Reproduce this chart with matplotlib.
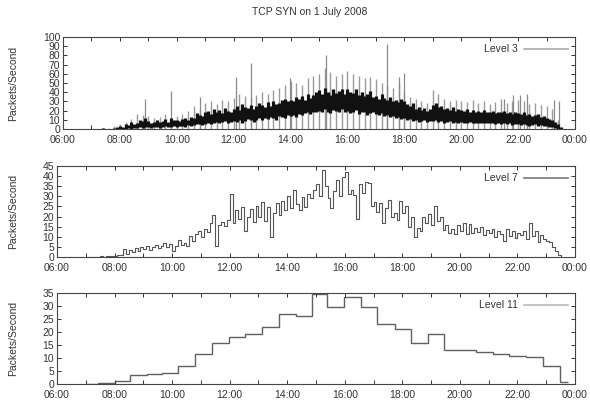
import matplotlib
matplotlib.use("Agg")
import matplotlib.pyplot as plt
from matplotlib.lines import Line2D
import numpy as np

plt.rcParams['font.family'] = ['Liberation Sans', 'DejaVu Sans']

title = "TCP SYN on 1 July 2008"
ylabel = "Packets/Second"
tick_hours = [6, 8, 10, 12, 14, 16, 18, 20, 22, 24]
tick_labels = ['06:00', '08:00', '10:00', '12:00', '14:00', '16:00',
               '18:00', '20:00', '22:00', '00:00']

# Level 3: dense band, sampled every 6 minutes from 07:00 to 23:30
t3 = np.arange(7.0, 23.55, 0.1)
lo3 = [0, 0, 0, 0, 0, 0, 0, 0, 0, 0,
       0, 0, 0, 1, 0, 1, 1, 2, 1, 2,
       2, 1, 2, 2, 1, 2, 3, 2, 2, 3,
       2, 3, 3, 2, 4, 3, 4, 5, 5, 4,
       5, 6, 5, 7, 8, 6, 8, 9, 7, 8,
       9, 8, 10, 7, 9, 11, 10, 8, 10, 12,
       10, 12, 11, 13, 12, 10, 14, 13, 12, 15,
       14, 15, 13, 16, 15, 17, 18, 16, 19, 18,
       20, 18, 22, 19, 17, 21, 20, 18, 22, 19,
       20, 17, 19, 21, 16, 18, 19, 15, 17, 18,
       16, 15, 17, 14, 15, 13, 14, 12, 13, 11,
       12, 10, 11, 9, 10, 8, 9, 10, 8, 9,
       9, 10, 8, 9, 7, 8, 9, 7, 8, 7,
       8, 7, 6, 8, 7, 6, 7, 6, 7, 6,
       6, 7, 5, 6, 5, 6, 5, 6, 4, 5,
       5, 4, 5, 4, 3, 4, 5, 3, 4, 3,
       3, 2, 2, 1, 0, 0]
hi3 = [0, 0.5, 0, 0, 1, 0, 0, 0.5, 1, 2,
       3, 2, 5, 4, 8, 5, 7, 10, 9, 12,
       9, 7, 8, 10, 8, 9, 11, 8, 12, 10,
       10, 9, 11, 12, 10, 13, 12, 17, 15, 14,
       18, 20, 16, 22, 19, 21, 17, 23, 20, 19,
       22, 25, 21, 27, 24, 23, 26, 22, 25, 28,
       26, 24, 29, 25, 30, 27, 28, 31, 33, 30,
       32, 30, 35, 33, 36, 31, 38, 34, 37, 40,
       42, 38, 45, 40, 37, 43, 39, 41, 44, 38,
       43, 40, 39, 44, 37, 40, 36, 38, 41, 35,
       36, 33, 38, 34, 32, 35, 30, 31, 29, 33,
       30, 27, 25, 28, 22, 24, 21, 23, 20, 22,
       26, 28, 24, 25, 22, 23, 21, 24, 20, 22,
       21, 20, 22, 19, 21, 18, 20, 19, 21, 18,
       19, 20, 17, 19, 18, 20, 17, 18, 16, 19,
       17, 16, 18, 15, 16, 14, 15, 16, 13, 14,
       12, 11, 10, 8, 5, 2]
# gray upper fringe, every 12 minutes
t3_pk = np.arange(7.0, 23.45, 0.2)
pk3 = [0, 0, 1, 1, 3,
       5, 8, 11, 16, 15,
       14, 12, 13, 16, 12,
       14, 16, 20, 25, 22,
       28, 30, 27, 32, 30,
       34, 38, 36, 35, 37,
       40, 38, 42, 45, 48,
       52, 50, 48, 55, 58,
       60, 66, 62, 58, 60,
       63, 60, 58, 55, 57,
       54, 50, 47, 45, 50,
       40, 35, 33, 30, 28,
       42, 38, 33, 30, 32,
       30, 29, 31, 28, 30,
       27, 29, 33, 28, 30,
       32, 30, 27, 28, 26,
       25, 22, 10]
spike_t = [8.88, 9.78, 10.83, 12.08, 12.6, 13.98, 15.25, 17.38, 17.83, 18.0,
           21.5, 21.83, 22.08, 22.33, 23.25, 23.43]
spike_v = [33, 41, 35, 57, 72, 55, 80, 92, 57, 61, 33, 37, 37, 38, 31, 30]

# Level 7, every 6 minutes from 07:00 to 23:30
t7 = np.arange(7.0, 23.55, 0.1)
v7 = [0, 0, 0, 0, 0, 0.3, 0, 0.5, 0.3, 0.6,
      0.4, 1.0, 0.8, 4.0, 1.5, 3.5, 2.5, 4.5, 3.0, 5.0,
      4.0, 5.5, 3.5, 5.0, 6.0, 4.5, 5.5, 7.0, 5.0, 6.5,
      3.0, 5.5, 8.5, 6.0, 7.0, 5.5, 10.5, 8.0, 11.5, 13.0,
      10.0, 14.0, 12.5, 17.0, 21.0, 5.5, 16.0, 17.5, 15.5, 18.5,
      31.0, 17.0, 23.0, 19.0, 24.5, 13.0, 20.0, 23.5, 17.5, 25.0,
      20.0, 27.0, 18.0, 24.5, 10.0, 22.0, 26.5, 21.0, 27.5, 23.0,
      30.0, 24.0, 33.0, 26.0, 23.0, 29.5, 24.5, 31.0, 29.0, 33.0,
      36.0, 30.0, 43.0, 35.0, 29.0, 24.0, 32.5, 38.0, 30.0, 39.5,
      42.0, 31.0, 33.0, 30.5, 19.0, 36.0, 31.5, 37.0, 36.5, 25.0,
      27.0, 22.5, 26.5, 17.0, 24.0, 28.0, 20.0, 22.0, 18.5, 27.5,
      22.0, 25.0, 15.0, 20.0, 10.0, 14.5, 13.0, 20.0, 17.0, 21.5,
      16.0, 25.0, 18.0, 20.0, 13.5, 16.0, 12.0, 14.0, 11.5, 16.0,
      13.0, 17.0, 11.5, 16.5, 12.0, 14.5, 12.5, 15.0, 11.0, 13.5,
      12.0, 14.0, 10.0, 13.0, 11.5, 8.0, 14.0, 10.5, 13.0, 9.5,
      12.0, 11.0, 13.0, 9.0, 17.0, 10.5, 13.0, 7.5, 11.0, 9.0,
      8.0, 7.5, 5.0, 3.0, 1.0, 0]

# Level 11 bins (edges in hours)
edges11 = [7.0, 7.41, 8.0, 8.53, 9.12, 9.65, 10.2, 10.79, 11.38, 11.96, 12.53,
           13.12, 13.71, 14.29, 14.85, 15.39, 15.98, 16.56, 17.12, 17.74, 18.29,
           18.88, 19.44, 20.02, 20.56, 21.15, 21.71, 22.29, 22.88, 23.47, 23.75]
v11 = [0, 0.2, 1.0, 3.5, 4.0, 4.3, 7.1, 11.7, 15.8, 18.1, 19.4, 21.8, 26.8,
       26.3, 34.8, 29.8, 33.4, 29.8, 23.1, 21.3, 15.8, 19.2, 13.1, 13.2, 12.3,
       11.4, 10.8, 10.4, 7.1, 0.7]

fig = plt.figure(figsize=(5.9, 4.03), dpi=100)
W, H = 590.0, 403.0


def make_ax(left, top, bottom, right=575):
    return fig.add_axes([left / W, 1 - bottom / H, (right - left) / W, (bottom - top) / H])


def style(ax, ymax, ystep, left_px, legend_label, legend_color):
    ax.set_xlim(6, 24)
    ax.set_ylim(0, ymax)
    ax.set_xticks(tick_hours)
    ax.set_xticklabels(tick_labels)
    ax.set_xticks(np.arange(6, 25, 1), minor=True)
    ax.set_yticks(np.arange(0, ymax + 0.1, ystep))
    ax.tick_params(which='both', direction='in', top=True, right=True,
                   labelsize=7.5, length=3, width=0.7, colors='#333333', pad=2)
    ax.tick_params(axis='x', pad=4.5)
    for s in ax.spines.values():
        s.set_linewidth(0.8)
        s.set_color('#444444')
    ax.set_ylabel(ylabel, fontsize=7.5, color='#333333')
    ax.yaxis.set_label_coords((18 - left_px) / (575 - left_px), 0.5)
    h = Line2D([], [], color=legend_color, lw=1.2)
    leg = ax.legend([h], [legend_label], loc='upper right', frameon=False,
                    markerfirst=False, fontsize=7.5, handlelength=4.2,
                    borderaxespad=0.3, handletextpad=0.6)
    for t in leg.get_texts():
        t.set_color('#333333')


# top panel
ax1 = make_ax(63, 37, 129)
ax1.vlines(t3_pk, 0, pk3, color='#9a9a9a', lw=1.0)
ax1.vlines(spike_t, 0, spike_v, color='#8a8a8a', lw=0.9)
ax1.vlines(t3, lo3, hi3, color='#111111', lw=2.3)
style(ax1, 100, 10, 63, 'Level 3', '#aaaaaa')

# middle panel
ax2 = make_ax(57, 166, 257)
ax2.step(t7, v7, where='post', color='#555555', lw=0.8)
style(ax2, 45, 5, 57, 'Level 7', '#777777')

# bottom panel
ax3 = make_ax(57, 293, 384)
ax3.stairs(v11, edges11, baseline=None, color='#606060', lw=1.0)
style(ax3, 35, 5, 57, 'Level 11', '#bbbbbb')

fig.text(310 / W, 1 - 12 / H, title, ha='center', va='center', fontsize=7.5,
         color='#333333')

fig.savefig('out.png', dpi=100)
